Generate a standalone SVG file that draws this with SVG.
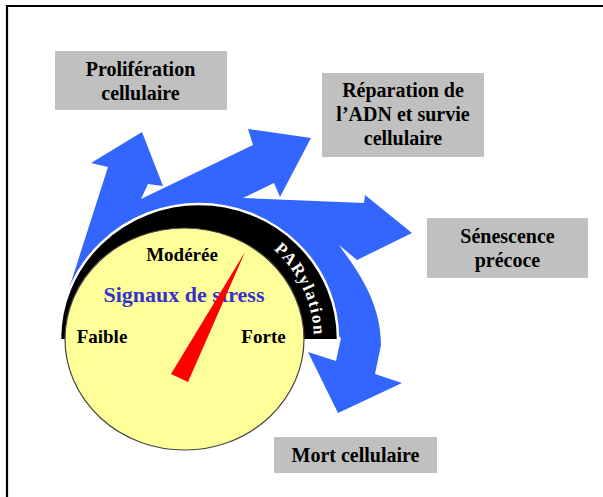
<svg xmlns="http://www.w3.org/2000/svg" width="603" height="497" viewBox="0 0 603 497">
<style>
.box{fill:#C0C0C0;}
.t{font-family:"Liberation Serif","Times New Roman",serif;font-weight:bold;font-size:20px;fill:#000;text-anchor:middle;}
.dl{font-family:"Liberation Serif","Times New Roman",serif;font-weight:bold;font-size:19px;fill:#000;text-anchor:middle;}
.arrow{fill:#3366FF;}
</style>
<defs>
<path id="parPath" d="M195,220 A119,119 0 0 1 312.2,359.7"/>
</defs>
<rect x="0" y="0" width="603" height="497" fill="#fff"/>
<path d="M7,497 V6 H603" fill="none" stroke="#000" stroke-width="2.2"/>

<g id="connectors">
<path class="arrow" d="M80,322 L66,298 L108,167 L91,163 L142,132 L163,186 L148,184 L141,199 L253,145 L248,129 L311,138 L280,197 L274,183 L243,198 L364,203 L365,195 L412,233 L357,260 L339,245 C352,264 381,298 381,345 L375,374 L402,383 L338,413 L308,352 L336,361 L341,338 L320,320 L200,300 Z"/>
</g>

<g id="dial">
<path d="M60,339 A139,135 0 0 1 338,339 Z" fill="#000"/>
<path d="M60,339 A139,135 0 0 1 338,339" fill="none" stroke="#fff" stroke-width="2.5"/>
<ellipse cx="184.5" cy="339" rx="119.5" ry="111" fill="#FFFF99" stroke="#444" stroke-width="1.2"/>
<text font-family="'Liberation Serif','Times New Roman',serif" font-weight="bold" font-size="17" fill="#fff" letter-spacing="1.5"><textPath href="#parPath" startOffset="135" text-anchor="middle">PARylation</textPath></text>
<text class="dl" x="182" y="261">Modérée</text>
<text x="184" y="302" font-family="'Liberation Serif','Times New Roman',serif" font-weight="bold" font-size="22" fill="#3333CC" text-anchor="middle">Signaux de stress</text>
<text class="dl" x="102" y="343">Faible</text>
<text class="dl" x="263.5" y="343">Forte</text>
<polygon points="245,252 171,374 188,382" fill="#FF0000"/>
</g>

<g id="proliferation">
<rect class="box" x="55" y="51" width="172" height="59"/>
<text class="t" x="140.5" y="76">Prolifération</text>
<text class="t" x="140.5" y="100">cellulaire</text>
</g>

<g id="reparation">
<rect class="box" x="322" y="73" width="162" height="84"/>
<text class="t" x="403" y="97">Réparation de</text>
<text class="t" x="403" y="121">l’ADN et survie</text>
<text class="t" x="403" y="145">cellulaire</text>
</g>

<g id="senescence">
<rect class="box" x="427" y="218" width="161" height="60"/>
<text class="t" x="507.5" y="243">Sénescence</text>
<text class="t" x="507.5" y="267">précoce</text>
</g>

<g id="mort">
<rect class="box" x="274" y="437" width="163" height="36"/>
<text class="t" x="355.5" y="462">Mort cellulaire</text>
</g>
</svg>
